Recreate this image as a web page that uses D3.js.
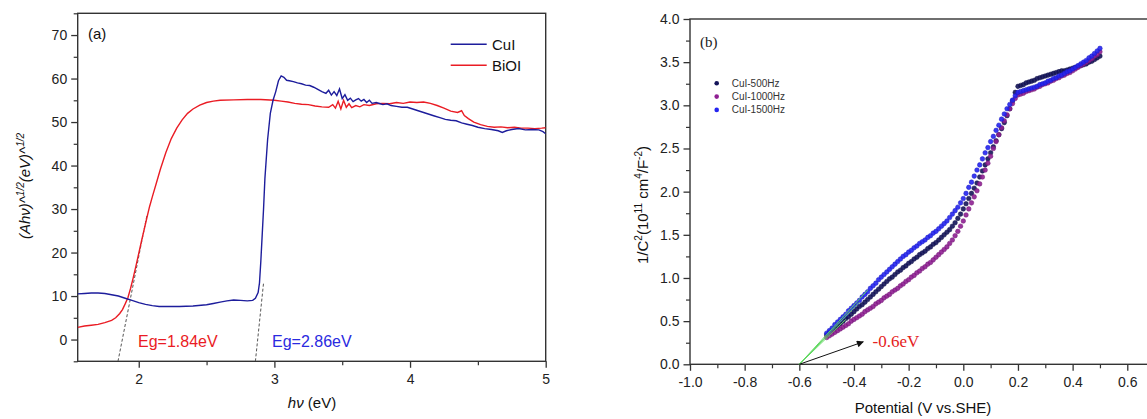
<!DOCTYPE html>
<html>
<head>
<meta charset="utf-8">
<script src="https://cdn.jsdelivr.net/npm/d3@7"></script>
<style>
  body { margin: 0; background: #fff; }
  svg { display: block; font-family: "Liberation Sans", Arial, sans-serif; }
</style>
</head>
<body>
<svg id="chart" width="1147" height="419"></svg>
<script>
// ---- panel (a) data : band gap plots ----
const cuiX = [1.55,1.60,1.65,1.70,1.75,1.80,1.85,1.90,1.95,2.00,2.05,2.10,2.15,2.20,2.30,2.40,2.50,2.55,2.60,2.65,2.70,2.75,2.80,2.84,2.86,2.88,2.89,2.90,2.91,2.92,2.93,2.95,2.97,2.99,3.01,3.03,3.05,3.07,3.09,3.11,3.14,3.17,3.20,3.23,3.26,3.29,3.32,3.35,3.38,3.40,3.42,3.44,3.46,3.48,3.50,3.52,3.54,3.56,3.58,3.60,3.62,3.64,3.66,3.68,3.70,3.72,3.75,3.78,3.80,3.83,3.86,3.90,3.94,3.98,4.02,4.06,4.10,4.14,4.18,4.22,4.26,4.30,4.34,4.38,4.42,4.46,4.50,4.55,4.60,4.65,4.68,4.71,4.75,4.80,4.85,4.90,4.95,4.98,5.00];
const cuiY = [10.5,10.6,10.7,10.7,10.6,10.3,10.0,9.5,9.0,8.5,8.1,7.8,7.6,7.6,7.6,7.7,8.0,8.3,8.6,8.9,9.1,9.0,8.9,9.0,9.5,10.8,13,18,24,30,37,46,52,55,57,59.5,60.6,60.3,59.6,59.5,59.3,59.0,58.8,58.5,58.4,58.0,57.5,57.0,56.6,57.3,56.2,57.0,56.1,57.6,55.4,56.3,55.0,55.5,54.7,55.1,55.4,54.8,55.2,54.5,55.0,54.3,54.5,54.2,54.0,54.2,53.8,53.6,53.4,53.4,53.0,52.6,52.2,51.8,51.4,51.0,50.6,50.4,50.3,49.8,49.5,49.2,48.8,48.5,48.3,48.0,47.6,48.0,48.3,48.5,48.2,48.3,48.2,47.8,47.3];
const bioiX = [1.55,1.60,1.65,1.70,1.75,1.80,1.83,1.86,1.88,1.90,1.92,1.94,1.96,1.98,2.00,2.02,2.04,2.06,2.08,2.10,2.13,2.16,2.20,2.24,2.28,2.32,2.36,2.40,2.45,2.50,2.55,2.60,2.70,2.80,2.90,3.00,3.05,3.10,3.15,3.20,3.25,3.30,3.35,3.40,3.43,3.45,3.47,3.49,3.51,3.53,3.55,3.57,3.60,3.63,3.66,3.70,3.75,3.80,3.85,3.90,3.95,4.00,4.05,4.10,4.15,4.20,4.25,4.30,4.35,4.38,4.40,4.43,4.47,4.52,4.57,4.62,4.67,4.72,4.77,4.82,4.87,4.92,4.97,5.00];
const bioiY = [2.8,3.1,3.3,3.5,3.9,4.4,5.0,6.0,6.9,8.2,9.6,11.8,14.3,17.0,19.8,22.6,25.3,28.0,30.6,32.8,36.0,39.2,43.0,46.2,48.6,50.5,52.0,53.0,53.9,54.5,54.8,55.0,55.1,55.2,55.2,55.0,54.8,54.6,54.3,54.1,54.0,53.7,53.5,53.4,54.0,53.2,54.8,53.0,55.0,53.4,54.2,53.3,53.8,53.5,54.0,53.8,54.2,54.3,54.2,54.5,54.3,54.6,54.5,54.6,54.3,53.8,53.2,52.5,52.2,52.6,51.5,50.8,50.0,49.4,49.0,48.8,48.9,48.7,48.8,48.6,48.6,48.5,48.6,48.7];
// tangent lines used for the gap estimate: [x0, y0, x1, y1]
const tangentBiOI = [1.847, -5, 2.06, 28.5];
const tangentCuI = [2.86, -5, 2.92, 13];
const xTicksA = [2, 3, 4, 5];
const yTicksA = [0, 10, 20, 30, 40, 50, 60, 70];

// ---- panel (b) data : Mott-Schottky plots ----
const potential = d3.range(101).map(i => +(-0.5 + i * 0.01).toFixed(2)); // measured potentials, 10 mV step
const hz500 = [0.34,0.37,0.39,0.42,0.44,0.47, 0.50,0.53,0.55,0.58,0.61, 0.64,0.67,0.69,0.72,0.75, 0.78,0.81,0.84,0.87,0.90, 0.93,0.96,0.99,1.01,1.04, 1.07,1.09,1.12,1.14,1.17, 1.19,1.22,1.24,1.27,1.29, 1.31,1.34,1.36,1.39,1.41, 1.44,1.47,1.50,1.53,1.56, 1.60,1.64,1.69,1.74,1.80, 1.86,1.92,1.98,2.04,2.10, 2.17,2.24,2.31,2.38,2.45, 2.52,2.59,2.66,2.73,2.80, 2.88,2.96,3.05,3.15,3.22, 3.23,3.24,3.26,3.27,3.28, 3.29,3.31,3.32,3.33,3.34, 3.35,3.36,3.37,3.38,3.39, 3.40,3.40,3.41,3.42,3.43, 3.44,3.45,3.46,3.47,3.48, 3.50,3.51,3.53,3.55,3.57];
const hz1000 = [0.31,0.33,0.35,0.37,0.39,0.41, 0.43,0.45,0.47,0.50,0.52, 0.54,0.56,0.58,0.61,0.63, 0.65,0.67,0.70,0.72,0.74, 0.77,0.79,0.81,0.84,0.86, 0.88,0.91,0.93,0.96,0.98, 1.01,1.03,1.06,1.08,1.11, 1.13,1.16,1.18,1.21,1.24, 1.27,1.30,1.33,1.36,1.40, 1.44,1.49,1.54,1.60,1.66, 1.73,1.80,1.87,1.94,2.01, 2.09,2.17,2.25,2.33,2.41, 2.50,2.58,2.66,2.74,2.82, 2.89,2.96,3.02,3.08,3.12, 3.13,3.14,3.16,3.17,3.18, 3.19,3.21,3.22,3.24,3.25, 3.26,3.28,3.29,3.31,3.32, 3.34,3.35,3.37,3.38,3.40, 3.42,3.44,3.46,3.48,3.50, 3.52,3.54,3.57,3.59,3.62];
const hz1500 = [0.36,0.39,0.42,0.46,0.49,0.52, 0.55,0.58,0.62,0.65,0.68, 0.71,0.74,0.78,0.81,0.84, 0.88,0.91,0.94,0.98,1.01, 1.04,1.07,1.10,1.13,1.16, 1.19,1.22,1.25,1.27,1.30, 1.32,1.35,1.37,1.40,1.42, 1.44,1.47,1.49,1.52,1.54, 1.57,1.60,1.63,1.66,1.70, 1.74,1.78,1.82,1.87,1.92, 1.98,2.05,2.11,2.18,2.25, 2.31,2.38,2.45,2.51,2.58, 2.64,2.71,2.77,2.84,2.90, 2.96,3.01,3.06,3.11,3.15, 3.16,3.17,3.18,3.19,3.20, 3.21,3.22,3.24,3.25,3.26, 3.28,3.29,3.31,3.32,3.34, 3.35,3.37,3.39,3.40,3.42, 3.44,3.46,3.48,3.50,3.52, 3.55,3.57,3.60,3.63,3.66];
const seriesNamesB = ["CuI-500Hz", "CuI-1000Hz", "CuI-1500Hz"];
const seriesColorsB = ["#14145a", "#8f1f92", "#2424f0"];
// extrapolated fits to the x intercept: end points [x, y]
const fitEnds = [[-0.35, 0.86], [-0.38, 0.72], [-0.43, 0.52]];
const xTicksB = [-1.0, -0.8, -0.6, -0.4, -0.2, 0.0, 0.2, 0.4, 0.6];
const yTicksB = [0.0, 0.5, 1.0, 1.5, 2.0, 2.5, 3.0, 3.5, 4.0];

const svg = d3.select("#chart");
const axisColor = "#333";
// plain hyphen for negative numbers, like the original plot
const fmt1 = d => d3.format(".1f")(d).replace("\u2212", "-");

// remove the domain path, colour the tick lines and labels
function tidyAxis(a, w) {
    a.select("path").remove();
    a.selectAll("line").attr("stroke", axisColor).attr("stroke-width", w);
    a.selectAll("text").attr("font-size", 14).attr("fill", "#222").attr("font-family", "Liberation Sans, Arial");
}

// ================= panel (a) =================
function drawPanelA() {
    const m = {left: 77.7, top: 13.3, right: 545.7, bottom: 361.3};
    const x = d3.scaleLinear().domain([1.55, 5]).range([m.left, m.right]);
    const y = d3.scaleLinear().domain([-5, 75]).range([m.bottom, m.top]);
    const g = svg.append("g");

    // minor ticks
    g.append("g").attr("transform", `translate(0,${m.bottom})`)
        .call(d3.axisBottom(x).tickValues([2.5, 3.5, 4.5]).tickSize(4).tickFormat(""))
        .call(a => tidyAxis(a, 1.2));
    g.append("g").attr("transform", `translate(${m.left},0)`)
        .call(d3.axisLeft(y).tickValues([-5, 5, 15, 25, 35, 45, 55, 65, 75]).tickSize(4).tickFormat(""))
        .call(a => tidyAxis(a, 1.2));

    // major ticks
    g.append("g").attr("transform", `translate(0,${m.bottom})`)
        .call(d3.axisBottom(x).tickValues(xTicksA).tickSize(6.5).tickPadding(6).tickFormat(d3.format("d")))
        .call(a => tidyAxis(a, 1.3));
    g.append("g").attr("transform", `translate(${m.left},0)`)
        .call(d3.axisLeft(y).tickValues(yTicksA).tickSize(6.5).tickPadding(4).tickFormat(d3.format("d")))
        .call(a => tidyAxis(a, 1.3));

    // frame
    g.append("rect").attr("x", m.left).attr("y", m.top)
        .attr("width", m.right - m.left).attr("height", m.bottom - m.top)
        .attr("fill", "none").attr("stroke", axisColor).attr("stroke-width", 1.4);

    svg.append("clipPath").attr("id", "clipA").append("rect")
        .attr("x", m.left).attr("y", m.top).attr("width", m.right - m.left).attr("height", m.bottom - m.top);

    const line = d3.line().x(d => x(d[0])).y(d => y(d[1]));
    const plot = g.append("g").attr("clip-path", "url(#clipA)");

    // dashed tangents
    [tangentBiOI, tangentCuI].forEach(t => {
        plot.append("line")
            .attr("x1", x(t[0])).attr("y1", y(t[1]))
            .attr("x2", x(t[2])).attr("y2", y(t[3]))
            .attr("stroke", "#555").attr("stroke-width", 1).attr("stroke-dasharray", "3,2");
    });

    plot.append("path").datum(d3.zip(bioiX, bioiY)).attr("d", line)
        .attr("fill", "none").attr("stroke", "#ea1c24").attr("stroke-width", 1.4);
    plot.append("path").datum(d3.zip(cuiX, cuiY)).attr("d", line)
        .attr("fill", "none").attr("stroke", "#1d1d9c").attr("stroke-width", 1.4);

    // legend
    const leg = [["CuI", "#1d1d9c"], ["BiOI", "#ea1c24"]];
    leg.forEach((l, i) => {
        const ly = 44.3 + i * 21;
        g.append("line").attr("x1", 450.7).attr("x2", 486.7).attr("y1", ly).attr("y2", ly)
            .attr("stroke", l[1]).attr("stroke-width", 1.4);
        g.append("text").attr("x", 492).attr("y", ly + 5.5).attr("font-size", 15).attr("fill", "#111").text(l[0]);
    });

    g.append("text").attr("x", 88).attr("y", 38.5).attr("font-size", 15).attr("fill", "#111").text("(a)");

    g.append("text").attr("x", 138).attr("y", 347).attr("font-size", 16).attr("fill", "#ea1c24").text("Eg=1.84eV");
    g.append("text").attr("x", 272).attr("y", 347).attr("font-size", 16).attr("fill", "#2a2ae0").text("Eg=2.86eV");

    // axis titles
    const xt = g.append("text").attr("x", 312).attr("y", 408).attr("text-anchor", "middle")
        .attr("font-size", 15).attr("fill", "#111");
    xt.append("tspan").attr("font-style", "italic").text("hν");
    xt.append("tspan").text(" (eV)");

    const yt = g.append("text").attr("transform", "translate(30,186) rotate(-90)")
        .attr("text-anchor", "middle").attr("font-size", 15).attr("font-style", "italic").attr("fill", "#111");
    yt.append("tspan").text("(Ahν)^");
    yt.append("tspan").attr("font-size", 10).attr("dy", -6).text("1/2");
    yt.append("tspan").attr("dy", 6).text("(eV)^");
    yt.append("tspan").attr("font-size", 10).attr("dy", -6).text("1/2");
}

// ================= panel (b) =================
function drawPanelB() {
    const m = {left: 690, top: 19, bottom: 364.3};
    const x = d3.scaleLinear().domain([-1.0, 0.7]).range([m.left, m.left + 1.7 * 273.3]);
    const y = d3.scaleLinear().domain([0, 4]).range([m.bottom, m.top]);
    const g = svg.append("g");
    const right = x(0.7);

    // minor ticks
    g.append("g").attr("transform", `translate(0,${m.bottom})`)
        .call(d3.axisBottom(x).tickValues([-0.9, -0.7, -0.5, -0.3, -0.1, 0.1, 0.3, 0.5]).tickSize(4).tickFormat(""))
        .call(a => tidyAxis(a, 1.2));
    g.append("g").attr("transform", `translate(${m.left},0)`)
        .call(d3.axisLeft(y).tickValues([0.25, 0.75, 1.25, 1.75, 2.25, 2.75, 3.25, 3.75]).tickSize(4).tickFormat(""))
        .call(a => tidyAxis(a, 1.2));

    g.append("g").attr("transform", `translate(0,${m.bottom})`)
        .call(d3.axisBottom(x).tickValues(xTicksB).tickSize(6.5).tickPadding(6).tickFormat(fmt1))
        .call(a => tidyAxis(a, 1.3));
    g.append("g").attr("transform", `translate(${m.left},0)`)
        .call(d3.axisLeft(y).tickValues(yTicksB).tickSize(6.5).tickPadding(4).tickFormat(fmt1))
        .call(a => tidyAxis(a, 1.3));

    // frame (right side is outside the picture)
    g.append("rect").attr("x", m.left).attr("y", m.top)
        .attr("width", right - m.left).attr("height", m.bottom - m.top)
        .attr("fill", "none").attr("stroke", axisColor).attr("stroke-width", 1.4);

    // scatter series
    [hz500, hz1000, hz1500].forEach((vals, k) => {
        g.append("g").selectAll("circle").data(d3.zip(potential, vals)).enter().append("circle")
            .attr("cx", d => x(d[0])).attr("cy", d => y(d[1])).attr("r", 2.3)
            .attr("fill", seriesColorsB[k])
            .attr("stroke", d3.color(seriesColorsB[k]).darker(0.6)).attr("stroke-width", 0.5)
            .attr("fill-opacity", 0.9);
    });

    // green fit lines (drawn over the first points) and arrow
    fitEnds.forEach(e => {
        g.append("line").attr("x1", x(-0.6)).attr("y1", y(0)).attr("x2", x(e[0])).attr("y2", y(e[1]))
            .attr("stroke", "#5fd85f").attr("stroke-width", 1);
    });

    const defs = svg.append("defs");
    defs.append("marker").attr("id", "arrowHead").attr("viewBox", "0 0 10 10")
        .attr("refX", 9).attr("refY", 5).attr("markerWidth", 9).attr("markerHeight", 7)
        .attr("markerUnits", "userSpaceOnUse").attr("orient", "auto")
        .append("path").attr("d", "M0,0 L10,5 L0,10 z").attr("fill", "#111");
    g.append("line").attr("x1", x(-0.6)).attr("y1", y(0)).attr("x2", x(-0.366)).attr("y2", y(0.26))
        .attr("stroke", "#111").attr("stroke-width", 1).attr("marker-end", "url(#arrowHead)");

    // legend
    seriesNamesB.forEach((n, i) => {
        const ly = 83.3 + i * 13.3;
        g.append("circle").attr("cx", 716.7).attr("cy", ly).attr("r", 2.3).attr("fill", seriesColorsB[i]);
        g.append("text").attr("x", 731.7).attr("y", ly + 3.5).attr("font-size", 10).attr("fill", "#333").text(n);
    });

    g.append("text").attr("x", 700).attr("y", 47).attr("font-size", 15)
        .attr("font-family", "Liberation Serif, Times New Roman, serif").attr("fill", "#222").text("(b)");

    g.append("text").attr("x", 872.5).attr("y", 347).attr("font-size", 17)
        .attr("font-family", "Liberation Serif, Times New Roman, serif").attr("fill", "#e52222").text("-0.6eV");

    // axis titles
    g.append("text").attr("x", 923).attr("y", 413).attr("text-anchor", "middle")
        .attr("font-size", 15).attr("fill", "#111").text("Potential (V vs.SHE)");

    const yt = g.append("text").attr("transform", "translate(648,205) rotate(-90)")
        .attr("text-anchor", "middle").attr("font-size", 15).attr("fill", "#111");
    yt.append("tspan").text("1/C");
    yt.append("tspan").attr("font-size", 10).attr("dy", -6).text("2");
    yt.append("tspan").attr("dy", 6).text("(10");
    yt.append("tspan").attr("font-size", 10).attr("dy", -6).text("11");
    yt.append("tspan").attr("dy", 6).text(" cm");
    yt.append("tspan").attr("font-size", 10).attr("dy", -6).text("4");
    yt.append("tspan").attr("dy", 6).text("/F");
    yt.append("tspan").attr("font-size", 10).attr("dy", -6).text("-2");
    yt.append("tspan").attr("dy", 6).text(")");
}

drawPanelA();
drawPanelB();
</script>
</body>
</html>
